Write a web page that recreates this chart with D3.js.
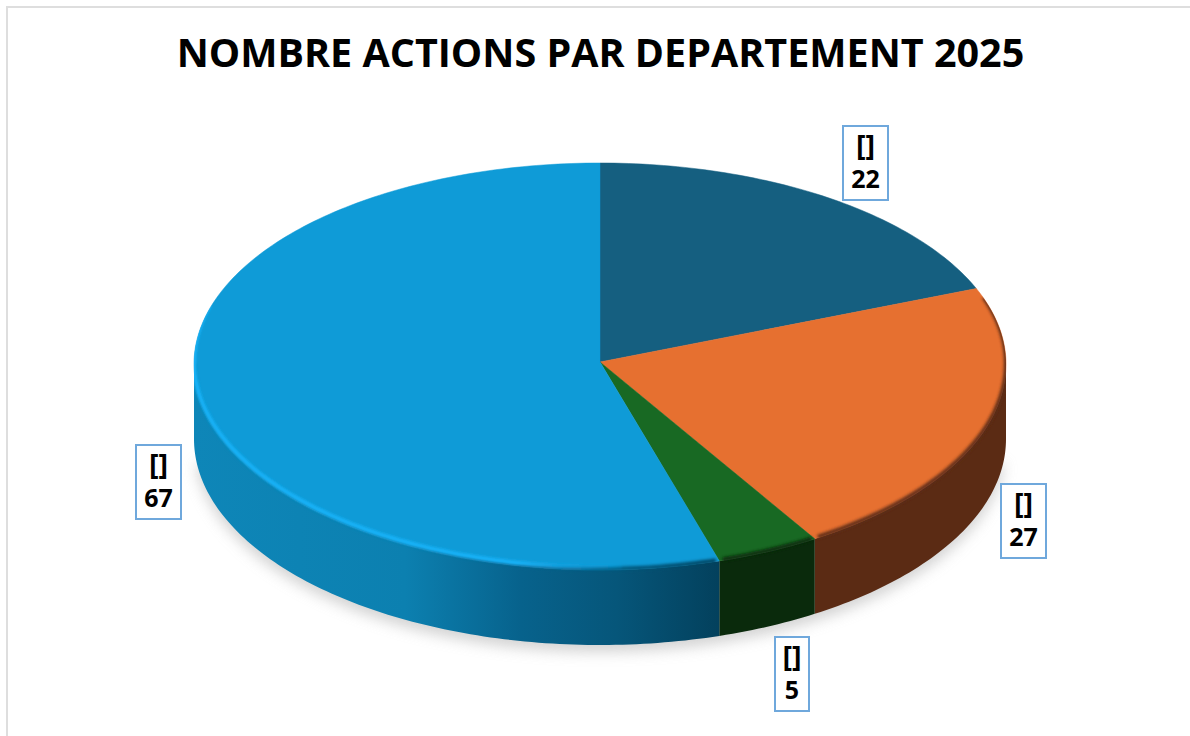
<!DOCTYPE html>
<html><head><meta charset="utf-8">
<script src="https://cdnjs.cloudflare.com/ajax/libs/d3/7.8.5/d3.min.js"></script>
<style>html,body{margin:0;padding:0;background:#fff}svg{display:block}</style>
</head><body><div id="chart"></div>
<script>
const titleText = "NOMBRE ACTIONS PAR DEPARTEMENT 2025";
const categoryLabels = ["[]","[]","[]","[]"];
const values = [22,27,5,67];
const faceColors = ["#155f80","#e67030","#186923","#0f9bd7"];
const sideColors = ["#0c3a4e","#5b2b14","#0a2a0c","#0e86b8"];
const labelBoxes = [[843,126,45],[1001,484,45],[775,637,34],[136,445,45]];

const W=1190,H=736,cx=600,cy=364,vx=600,vy=362,rx=406,ryTop=201,ryBottom=206,depth=75;
const svg=d3.select("#chart").append("svg").attr("width",W).attr("height",H);
const defs=svg.append("defs");
const blur=(id,sd)=>defs.append("filter").attr("id",id).attr("filterUnits","userSpaceOnUse")
  .attr("x",0).attr("y",0).attr("width",W).attr("height",H).append("feGaussianBlur").attr("stdDeviation",sd);
blur("blurShadow",7); blur("blurRim",1.7); blur("blurGlow",1.1);
const hgrad=(id,x1,x2,stops)=>{const g=defs.append("linearGradient").attr("id",id).attr("gradientUnits","userSpaceOnUse")
  .attr("x1",x1).attr("x2",x2).attr("y1",0).attr("y2",0);
  stops.forEach(s=>g.append("stop").attr("offset",s[0]).attr("stop-color",s[1]).attr("stop-opacity",s[2]===undefined?1:s[2]));};
hgrad("blueSide",194,722,[[0,"#0e86b8"],[.4,"#0c80b0"],[.62,"#07628c"],[.8,"#06567a"],[1,"#03405c"]]);
hgrad("blueGlow",194,640,[[0,"#17b1f6"],[.72,"#17b1f6"],[.85,"#17b1f6",.5],[1,"#17b1f6",0]]);

svg.append("path").attr("d",`M7,${H} V7 H${W}`).attr("fill","none").attr("stroke","#dedede").attr("stroke-width",2);
svg.append("text").attr("x",600.5).attr("y",66.5).attr("text-anchor","middle")
  .attr("font-family","'Open Sans',sans-serif").attr("font-weight",700).attr("font-size",39.5).attr("fill","#000").text(titleText);

// Perspective correction of the tilted disc
const warp=d3.scaleLinear().domain([0,60,180,360]).range([0,62.5,182.2,360]);
const pie=d3.pie().sort(null).value(d=>d).startAngle(0).endAngle(2*Math.PI);
const slices=pie(values).map((s,i)=>({...s,i,a:warp(s.startAngle*180/Math.PI),b:warp(s.endAngle*180/Math.PI)}));
const pt=(deg,dy=0)=>{const t=deg*Math.PI/180,c=Math.cos(t);return [cx+rx*Math.sin(t),cy-(c>0?ryTop:ryBottom)*c+dy];};
const arcPts=(a,b,dy=0)=>{const n=Math.max(2,Math.ceil(Math.abs(b-a)));return d3.range(n+1).map(k=>pt(a+(b-a)*k/n,dy));};
const line=d3.line();

// the disc's outline, which keeps the soft shoulders from spilling onto the page
defs.append("clipPath").attr("id","discClip").append("path")
  .attr("d",line(arcPts(270,450).concat(arcPts(90,270,depth)))+"Z");

// ground shadow
svg.append("path").attr("d",line(arcPts(95,265,depth+7))+"Z").attr("fill","#c4c4c4").attr("opacity",.75).attr("filter","url(#blurShadow)");

// side walls
slices.forEach(s=>{
  const a=Math.max(s.a,90),b=Math.min(s.b,270);
  if(b<=a) return;
  svg.append("path").attr("d",line(arcPts(a,b).concat(arcPts(b,a,depth)))+"Z")
    .attr("fill",s.i===3?"url(#blueSide)":sideColors[s.i]);
});
// top faces
slices.forEach(s=>{
  svg.append("path").attr("d",line([[vx,vy]].concat(arcPts(s.a,s.b)))+"Z")
    .attr("fill",faceColors[s.i]).attr("stroke",faceColors[s.i]).attr("stroke-width",.5);
});
// soft shoulder between face and wall
const shoulders=svg.append("g").attr("clip-path","url(#discClip)");
slices.forEach(s=>{
  if(s.i===0) return;
  const a=s.i===1?s.a+3:s.a+.5,b=s.i===3?270:s.b-.5;
  shoulders.append("path").attr("d",line(arcPts(a,b,-1))).attr("fill","none")
    .attr("stroke",s.i===3?"url(#blueSide)":sideColors[s.i]).attr("stroke-width",4).attr("filter","url(#blurRim)");
});
// light catching the shoulder of the largest slice
const big=slices[3];
shoulders.append("path").attr("d",line(arcPts(big.a+14,286,-3))).attr("fill","none")
  .attr("stroke","url(#blueGlow)").attr("stroke-width",4.5).attr("filter","url(#blurGlow)");

// data labels
slices.forEach(s=>{
  const [x,y,w]=labelBoxes[s.i];
  const g=svg.append("g");
  g.append("rect").attr("x",x).attr("y",y).attr("width",w).attr("height",74).attr("fill","#fff").attr("stroke","#6fa8dc").attr("stroke-width",2);
  const t=g.append("text").attr("text-anchor","middle").attr("font-family","'Open Sans',Arial,sans-serif")
    .attr("font-weight",700).attr("font-size",25).attr("fill","#000");
  t.append("tspan").attr("x",x+w/2).attr("y",y+30).attr("font-size",29).text(categoryLabels[s.i]);
  t.append("tspan").attr("x",x+w/2).attr("y",y+62).text(values[s.i]);
});
</script></body></html>
